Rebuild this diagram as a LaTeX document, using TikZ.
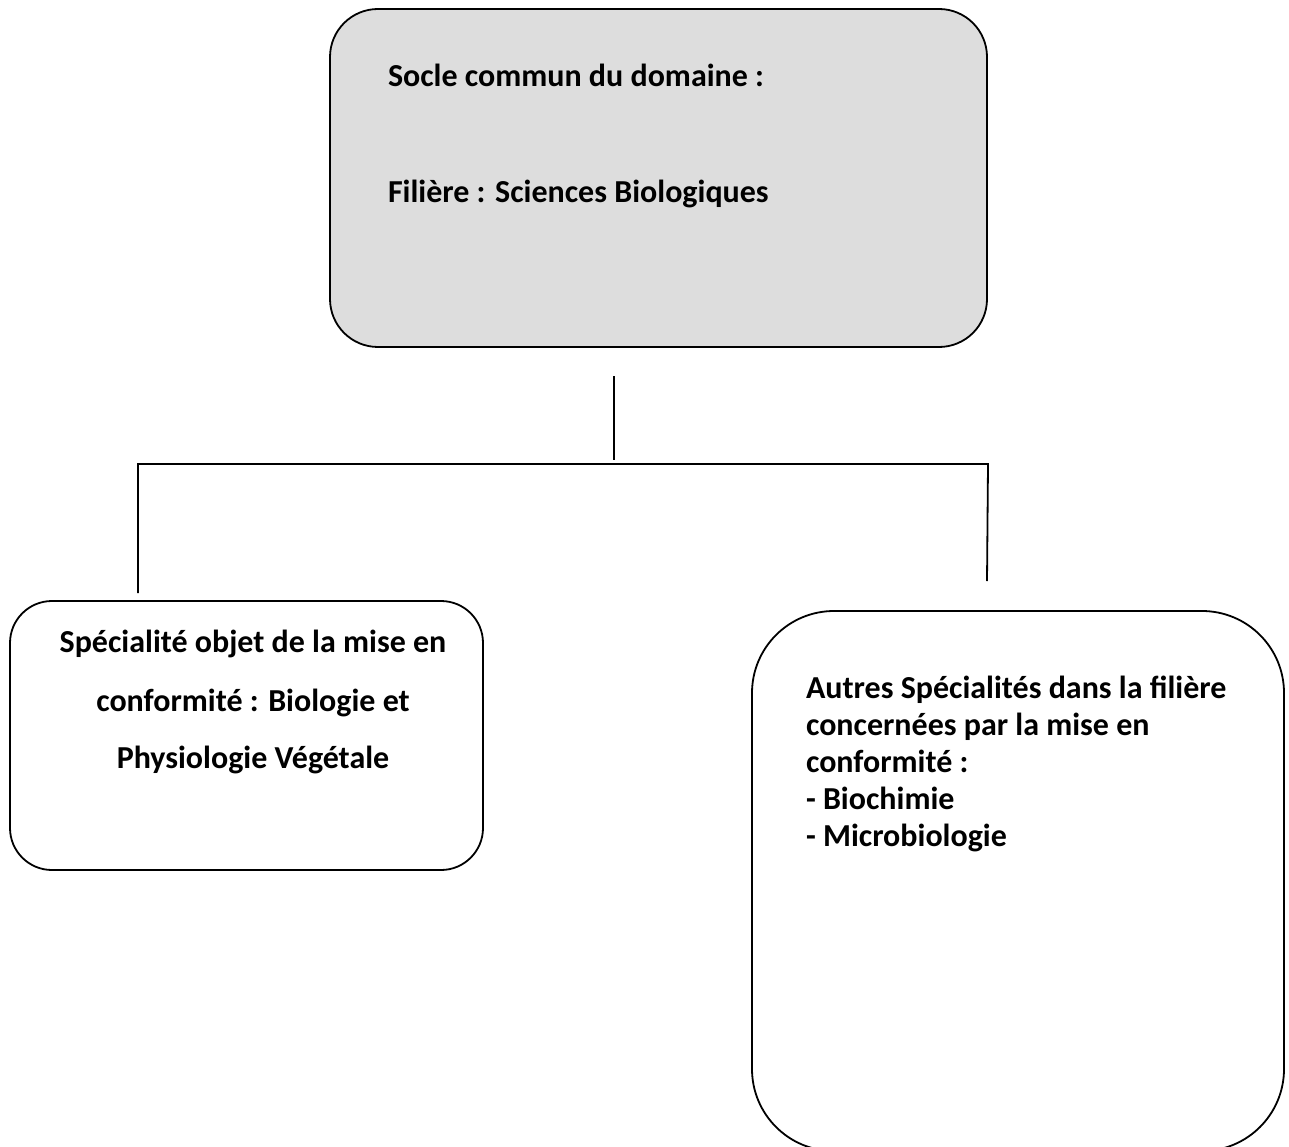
\documentclass[tikz,border=0pt]{standalone}
\usepackage{fontspec}
\setmainfont{Carlito}
\begin{document}
\begin{tikzpicture}[x=1pt,y=-1pt,
  box/.style={draw=black,line width=1.8pt,inner sep=0pt,outer sep=0pt},
  conn/.style={draw=black,line width=1.8pt},
  txt/.style={font=\fontsize{32}{38}\selectfont\bfseries,inner sep=0pt,outer sep=0pt}]
\useasboundingbox[fill=white] (0,0) rectangle (1289,1147);
% boxes
\node[box,fill={rgb,255:red,221;green,221;blue,221},rounded corners=48pt,
  minimum width=657pt,minimum height=338pt,anchor=north west] (top) at (330,9) {};
\node[box,rounded corners=42pt,minimum width=473pt,minimum height=269pt,
  anchor=north west] (left) at (10,601) {};
\begin{scope}
\clip (0,0) rectangle (1289,1147);
\node[box,rounded corners=82pt,minimum width=532pt,minimum height=540pt,
  anchor=north west] (right) at (752,611) {};
\end{scope}
% texts
\node[txt,anchor=base west] (t1) at (388,87) {Socle commun du domaine :};
\node[txt,anchor=base west] (t2) at (388,203) {Filière : Sciences Biologiques};
\node[txt,anchor=base] (l1) at (253,652) {Spécialité objet de la mise en};
\node[txt,anchor=base] (l2) at (253,711) {conformité : Biologie et};
\node[txt,anchor=base] (l3) at (253,768) {Physiologie Végétale};
\node[txt,anchor=base west] (r1) at (806,698) {Autres Spécialités dans la filière};
\node[txt,anchor=base west] (r2) at (806,735) {concernées par la mise en};
\node[txt,anchor=base west] (r3) at (806,772) {conformité :};
\node[txt,anchor=base west] (r4) at (806,809) {- Biochimie};
\node[txt,anchor=base west] (r5) at (806,846) {- Microbiologie};
% connectors
\coordinate (v1) at (614,376);
\coordinate (v2) at (614,460);
\coordinate (hl) at (138,464);
\coordinate (hr) at (988,464);
\coordinate (le) at (138,593);
\coordinate (re) at (987,581);
\draw[conn] (v1) -- (v2);
\draw[conn] (le) -- (hl) -- (hr) -- (re);
\end{tikzpicture}
\end{document}
